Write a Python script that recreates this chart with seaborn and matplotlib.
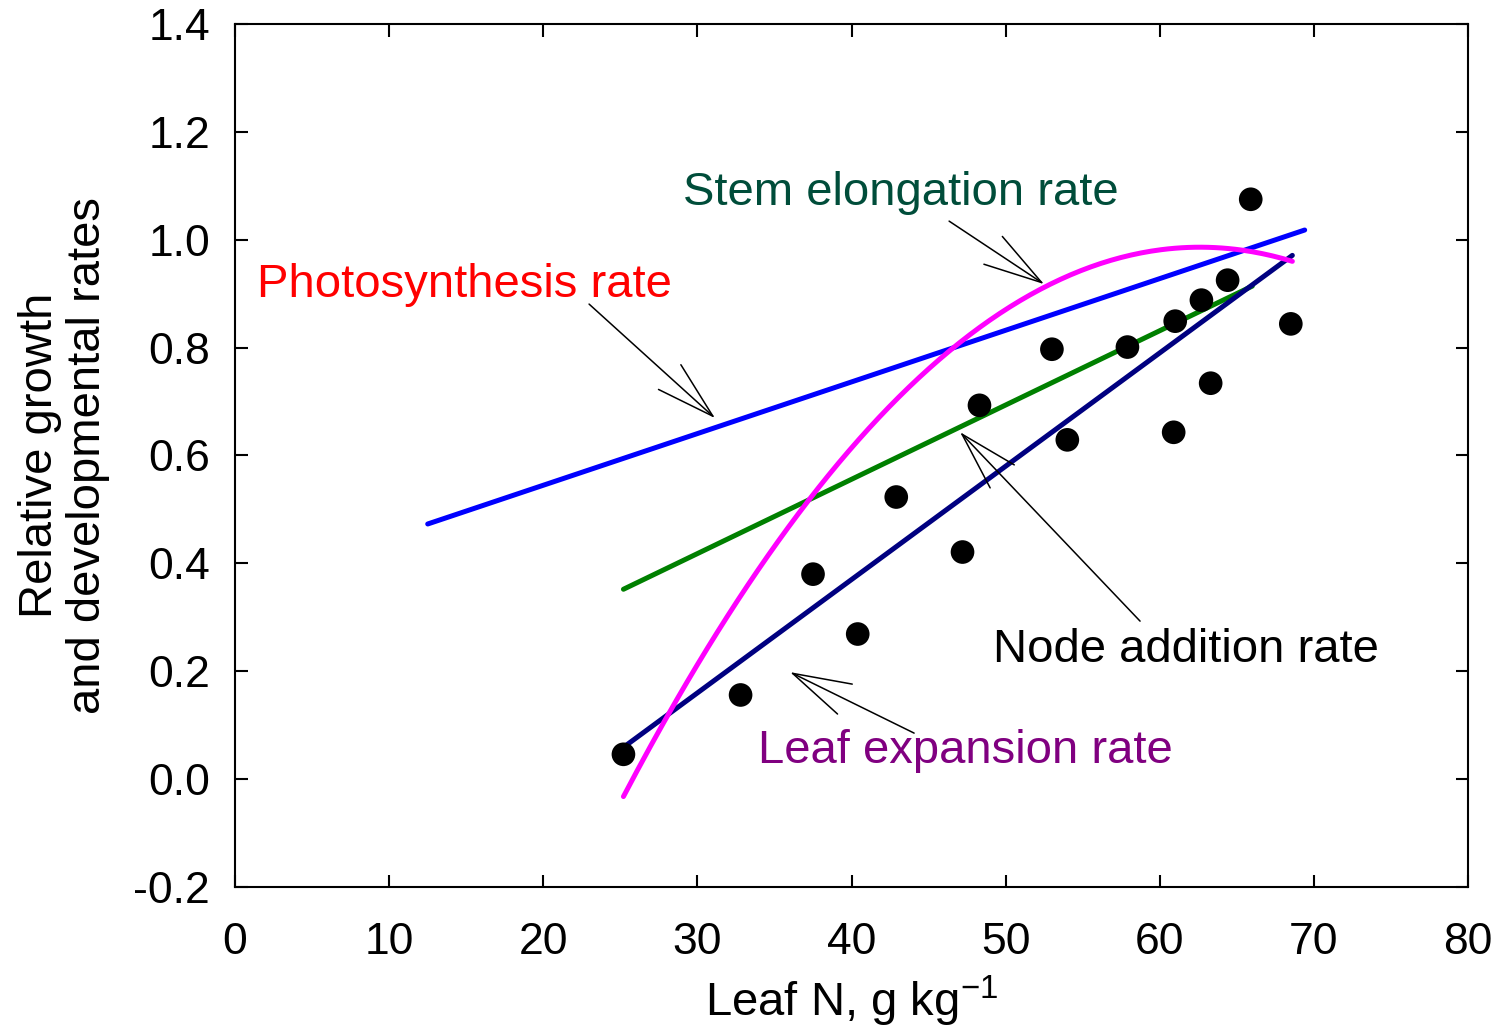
import numpy as np
import pandas as pd
import matplotlib
matplotlib.use("Agg")
import matplotlib.pyplot as plt
from matplotlib.ticker import FormatStrFormatter, MultipleLocator
import seaborn as sns

# Observed points (leaf N, relative rate)
leaf_n = [25.2, 32.8, 37.5, 40.4, 42.9, 47.2, 48.3, 53.0, 54.0, 57.9,
          60.9, 61.0, 62.7, 63.3, 64.4, 65.9, 68.5]
rel_rate = [0.046, 0.156, 0.380, 0.269, 0.523, 0.421, 0.693, 0.797, 0.629, 0.801,
            0.643, 0.849, 0.888, 0.734, 0.925, 1.075, 0.844]

# Fitted lines (end points)
photo_x = [12.5, 69.4]
photo_y = [0.473, 1.018]
green_x = [25.2, 66.0]
green_y = [0.352, 0.914]
navy_x = [25.2, 68.6]
navy_y = [0.059, 0.971]

# Quadratic response curve: y = a*x^2 + b*x + c
curve_coef = [-0.000728, 0.09115, -1.867]
curve_range = [25.2, 68.6]

sns.set_style("ticks")
plt.rcParams["font.family"] = ["Liberation Sans", "DejaVu Sans"]
plt.rcParams["mathtext.fontset"] = "custom"
plt.rcParams["mathtext.rm"] = "Liberation Sans"
plt.rcParams["mathtext.it"] = "Liberation Sans"
plt.rcParams["axes.unicode_minus"] = False
plt.rcParams["axes.labelcolor"] = "black"
plt.rcParams["text.color"] = "black"

fig = plt.figure(figsize=(15, 10.29), dpi=100)
ax = fig.add_axes([0.1567, 0.138, 0.822, 0.8387])

cx = np.linspace(curve_range[0], curve_range[1], 200)
cy = np.polyval(curve_coef, cx)

sns.lineplot(x=photo_x, y=photo_y, ax=ax, color="#0000ff", lw=3.6, sort=False)
sns.lineplot(x=green_x, y=green_y, ax=ax, color="#008000", lw=3.6, sort=False)
sns.lineplot(x=navy_x, y=navy_y, ax=ax, color="#000080", lw=3.6, sort=False)
sns.lineplot(x=cx, y=cy, ax=ax, color="#ff00ff", lw=3.6, sort=False)
sns.scatterplot(x=leaf_n, y=rel_rate, ax=ax, color="black", s=290,
                edgecolor="none", zorder=5)

# Labels with open arrows
arrow = dict(arrowstyle="->,head_length=2.1,head_width=0.6", color="black",
             lw=1.1, mutation_scale=20, shrinkA=0, shrinkB=0)
labels = [
    ("Stem elongation rate", (43.2, 1.064), (46.33, 1.0345), (52.49, 0.9177), "#004d3a"),
    ("Photosynthesis rate", (14.9, 0.894), (22.97, 0.8807), (31.14, 0.6693), "#ff0000"),
    ("Node addition rate", (61.7, 0.217), (58.72, 0.2929), (47.04, 0.6433), "black"),
    ("Leaf expansion rate", (47.4, 0.030), (44.06, 0.0853), (36.01, 0.1984), "#800080"),
]
for txt, pos, tail, tip, col in labels:
    ax.text(pos[0], pos[1], txt, color=col, fontsize=34, ha="center", va="baseline")
    ax.annotate("", xy=tip, xytext=tail, arrowprops=arrow)

ax.set_xlim(0, 80)
ax.set_ylim(-0.2, 1.4)
ax.xaxis.set_major_locator(MultipleLocator(10))
ax.yaxis.set_major_locator(MultipleLocator(0.2))
ax.yaxis.set_major_formatter(FormatStrFormatter("%.1f"))
ax.tick_params(direction="in", length=9, width=1.5, top=True, right=True,
               labelsize=32, colors="black")
ax.tick_params(axis="x", pad=25)
ax.tick_params(axis="y", pad=18)
for sp in ax.spines.values():
    sp.set_linewidth(1.5)
    sp.set_color("black")

ax.set_xlabel("Leaf N, g kg$^{\\mathregular{-1}}$", fontsize=34, labelpad=8)
ax.set_ylabel("Relative growth\nand developmental rates", fontsize=34,
              labelpad=17, linespacing=1.1)

fig.savefig("out.png", dpi=100)
